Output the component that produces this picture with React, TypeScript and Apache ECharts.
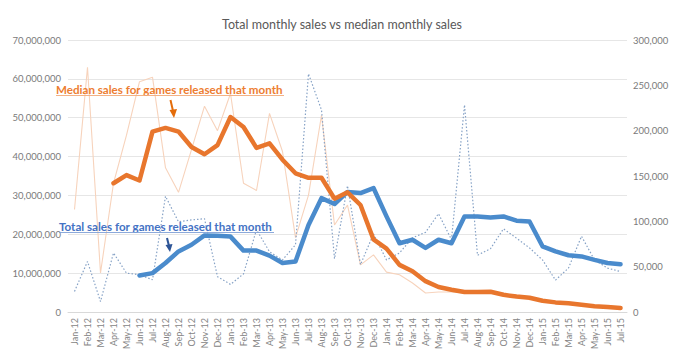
import React, { useEffect, useRef } from "react";
import * as echarts from "echarts";

const categories = [
  "Jan-12", "Feb-12", "Mar-12", "Apr-12", "May-12", "Jun-12", "Jul-12", "Aug-12", "Sep-12", "Oct-12", "Nov-12", "Dec-12",
  "Jan-13", "Feb-13", "Mar-13", "Apr-13", "May-13", "Jun-13", "Jul-13", "Aug-13", "Sep-13", "Oct-13", "Nov-13", "Dec-13",
  "Jan-14", "Feb-14", "Mar-14", "Apr-14", "May-14", "Jun-14", "Jul-14", "Aug-14", "Sep-14", "Oct-14", "Nov-14", "Dec-14",
  "Jan-15", "Feb-15", "Mar-15", "Apr-15", "May-15", "Jun-15", "Jul-15",
];

// Total sales (left axis)
const totalSalesMonthly = [
  5300000, 13000000, 2700000, 15200000, 10000000, 9600000, 8300000, 29800000, 23200000, 23700000, 24000000, 9100000,
  7100000, 9800000, 21200000, 15500000, 13400000, 17300000, 61300000, 52000000, 13700000, 32500000, 12200000, 20100000,
  13400000, 15200000, 19100000, 20500000, 25300000, 18600000, 53300000, 14600000, 16300000, 21400000, 19000000, 16500000,
  13400000, 8200000, 11300000, 19500000, 13400000, 11300000, 10400000,
];
const totalSalesTrend = [
  null, null, null, null, null, 9400000, 10000000, 12600000, 15600000, 17300000, 19700000, 19600000,
  19400000, 15800000, 15800000, 14500000, 12600000, 13000000, 22400000, 29300000, 27800000, 30900000, 30600000, 31900000,
  24600000, 17700000, 18600000, 16500000, 18600000, 17700000, 24600000, 24600000, 24300000, 24600000, 23500000, 23300000,
  16900000, 15600000, 14600000, 14300000, 13400000, 12600000, 12300000,
];

// Median sales (right axis)
const medianSalesMonthly = [
  113000, 270000, 43000, 142000, 195000, 254000, 259000, 159000, 132000, 179000, 227000, 200000,
  241000, 142000, 134000, 219000, 177000, 82000, 129000, 217000, 96000, 118000, 52000, 63000,
  44000, 41000, 32000, 21000, 22000, 22000, 21000, 21000, 21000, 18000, 16000, 15000,
  12000, 10000, 9000, 7500, 6000, 5000, 4000,
];
const medianSalesTrend = [
  null, null, null, 142000, 151000, 145000, 199000, 203000, 199000, 182000, 174000, 184000,
  215000, 204000, 181000, 186000, 168000, 153000, 148000, 148000, 125000, 132000, 118000, 80000,
  70000, 52000, 45000, 34000, 27500, 24500, 22000, 22000, 22400, 19000, 17000, 15700,
  12400, 10600, 9700, 8000, 6400, 5500, 4400,
];

const leftMax = 70000000;
const leftInterval = 10000000;
const rightMax = 300000;
const rightInterval = 50000;

const titleText = "Total monthly sales vs median monthly sales";
const medianNote = "Median sales for games released that month";
const totalNote = "Total sales for games released that month";

const fmt = (v: number) => v.toLocaleString("en-US");

export default function App() {
  const ref = useRef<HTMLDivElement>(null);

  useEffect(() => {
    if (!ref.current) return;
    const chart = echarts.init(ref.current, undefined, { renderer: "svg" });
    const axisLabelStyle = { color: "#7a7a7a", fontSize: 9.5, fontFamily: "Lato" };
    chart.setOption({
      animation: false,
      backgroundColor: "#ffffff",
      title: {
        text: titleText,
        left: "center",
        top: 13,
        textStyle: { color: "#595959", fontSize: 12.5, fontWeight: "normal", fontFamily: "Lato" },
      },
      grid: { left: 68, right: 57, top: 40, bottom: 44 },
      xAxis: {
        type: "category",
        data: categories,
        boundaryGap: true,
        axisLine: { show: true, lineStyle: { color: "#d9d9d9" } },
        axisTick: { show: false },
        axisLabel: { ...axisLabelStyle, color: "#858585", fontSize: 9, rotate: 90, interval: 0, margin: 6 },
      },
      yAxis: [
        {
          type: "value",
          min: 0,
          max: leftMax,
          interval: leftInterval,
          axisLine: { show: false },
          axisTick: { show: false },
          splitLine: { show: true, lineStyle: { color: "#e6e6e6" } },
          axisLabel: { ...axisLabelStyle, margin: 7, formatter: fmt },
        },
        {
          type: "value",
          min: 0,
          max: rightMax,
          interval: rightInterval,
          axisLine: { show: false },
          axisTick: { show: false },
          splitLine: { show: false },
          axisLabel: { ...axisLabelStyle, margin: 6, formatter: fmt },
        },
      ],
      series: [
        {
          name: "Median monthly",
          type: "line",
          yAxisIndex: 1,
          data: medianSalesMonthly,
          showSymbol: false,
          lineStyle: { color: "#f7d3bc", width: 1.1 },
          z: 1,
        },
        {
          name: "Total monthly",
          type: "line",
          yAxisIndex: 0,
          data: totalSalesMonthly,
          showSymbol: false,
          lineStyle: { color: "#86a2c6", width: 1.2, type: [1.5, 2] },
          z: 2,
        },
        {
          name: "Total trend",
          type: "line",
          yAxisIndex: 0,
          data: totalSalesTrend,
          showSymbol: false,
          connectNulls: false,
          lineStyle: { color: "#4a8bcc", width: 4.5, cap: "round", join: "round" },
          z: 3,
        },
        {
          name: "Median trend",
          type: "line",
          yAxisIndex: 1,
          data: medianSalesTrend,
          showSymbol: false,
          connectNulls: false,
          lineStyle: { color: "#e8762d", width: 4.5, cap: "round", join: "round" },
          z: 4,
        },
      ],
      graphic: [
        {
          type: "text",
          x: 56,
          y: 89,
          z: 10,
          style: {
            text: medianNote,
            fill: "#ed7d31",
            fontSize: 11.6,
            fontWeight: "bold",
            fontFamily: "Lato",
            verticalAlign: "middle",
          },
        },
        {
          type: "line",
          z: 10,
          shape: { x1: 56, y1: 95.5, x2: 284, y2: 95.5 },
          style: { stroke: "#f2a978", lineWidth: 0.9 },
        },
        {
          type: "line",
          z: 10,
          shape: { x1: 170.5, y1: 100, x2: 173, y2: 111 },
          style: { stroke: "#e46c0a", lineWidth: 2 },
        },
        {
          type: "polygon",
          z: 10,
          shape: { points: [[169.5, 110], [177, 109], [174, 118]] },
          style: { fill: "#e46c0a" },
        },
        {
          type: "text",
          x: 59,
          y: 226,
          z: 10,
          style: {
            text: totalNote,
            fill: "#4472c4",
            fontSize: 11.6,
            fontWeight: "bold",
            fontFamily: "Lato",
            verticalAlign: "middle",
          },
        },
        {
          type: "line",
          z: 10,
          shape: { x1: 59, y1: 232.5, x2: 274, y2: 232.5 },
          style: { stroke: "#7f9fd6", lineWidth: 0.9 },
        },
        {
          type: "line",
          z: 10,
          shape: { x1: 167, y1: 238, x2: 169, y2: 246 },
          style: { stroke: "#2e5597", lineWidth: 2 },
        },
        {
          type: "polygon",
          z: 10,
          shape: { points: [[165.5, 245], [172.5, 244], [170, 252]] },
          style: { fill: "#2e5597" },
        },
      ],
    });
    return () => chart.dispose();
  }, []);

  return (
    <div
      ref={ref}
      style={{ position: "fixed", left: 0, top: 0, width: 684, height: 356, background: "#fff" }}
    />
  );
}
